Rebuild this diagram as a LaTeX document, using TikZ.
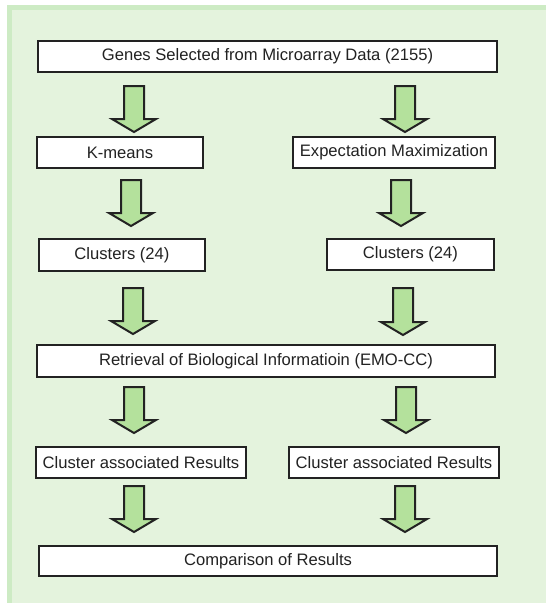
\documentclass[tikz,border=0pt]{standalone}
\usepackage{fontspec}
\setmainfont{Liberation Sans}
\definecolor{panel}{HTML}{E4F3DD}
\definecolor{stripe}{HTML}{CDEBC4}
\definecolor{arrowfill}{HTML}{B4E19C}
\definecolor{ink}{HTML}{222222}
\tikzset{
  box/.style={draw=ink, line width=2.2pt, fill=white, minimum height=31pt, inner sep=0pt,
    font=\fontsize{16.6}{19}\selectfont, text=ink},
  blockarrow/.style={draw=ink, line width=2pt, fill=arrowfill, line join=miter}
}
\newcommand\barrow[3]{% x, shaft top y, tip y
  \draw[blockarrow] ({#1-10},{-#2}) -- ({#1+10},{-#2}) -- ({#1+10},{-#3+13}) -- ({#1+22},{-#3+13})
    -- (#1,{-#3}) -- ({#1-22},{-#3+13}) -- ({#1-10},{-#3+13}) -- cycle;}
\begin{document}
\begin{tikzpicture}[x=1pt,y=1pt]
\useasboundingbox (0,0) rectangle (546,-603);
\fill[stripe] (7,-5) rectangle (546,-603);
\fill[panel] (12,-10) rectangle (546,-603);

\node[box, minimum width=459pt] (genes) at (267.5,-56.5) {Genes Selected from Microarray Data (2155)};
\node[box, minimum width=166pt] (km) at (120,-152.5) {K-means};
\node[box, minimum width=202pt] (em) at (394,-152.5) {Expectation Maximization};
\node[box, minimum width=166pt, minimum height=32pt] (cl) at (122,-255) {Clusters (24)};
\node[box, minimum width=167pt] (cr) at (410.5,-254.5) {Clusters (24)};
\node[box, minimum width=458pt, minimum height=32pt] (ret) at (266,-361) {Retrieval of Biological Informatioin (EMO-CC)};
\node[box, minimum width=210pt] (cal) at (141,-462.5) {Cluster associated Results};
\node[box, minimum width=210pt] (car) at (394,-462.5) {Cluster associated Results};
\node[box, minimum width=458pt, minimum height=30pt] (cmp) at (268,-561) {Comparison of Results};

\barrow{134}{86}{132}
\barrow{405}{86}{132}
\barrow{131}{180}{226}
\barrow{401}{180}{226}
\barrow{133}{288}{334}
\barrow{403}{288}{335}
\barrow{134}{387}{433}
\barrow{406}{387}{433}
\barrow{134}{486}{532}
\barrow{405}{486}{532}
\end{tikzpicture}
\end{document}
